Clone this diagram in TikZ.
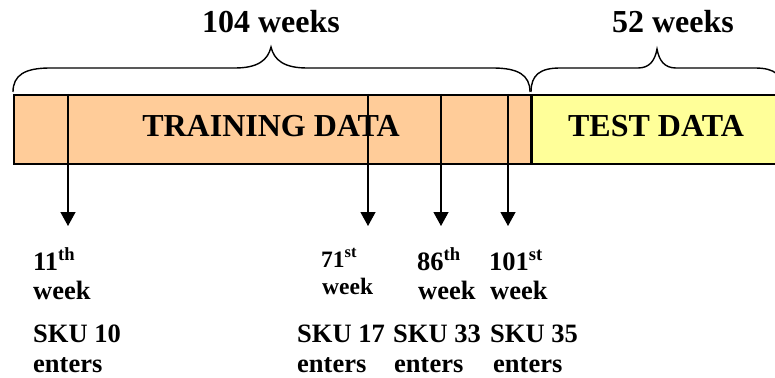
\documentclass[tikz,border=0pt]{standalone}
\usepackage{fontspec}
\setmainfont{Liberation Serif}
\usetikzlibrary{arrows.meta}
\definecolor{trainfill}{HTML}{FFCC99}
\definecolor{testfill}{HTML}{FFFF99}
\begin{document}
\begin{tikzpicture}[x=1pt,y=-1pt,
  box/.style={draw=black,line width=1.6pt,rectangle,inner sep=0pt,anchor=north west},
  bigtxt/.style={font=\fontsize{32}{36}\selectfont\bfseries,inner sep=0pt},
  lbl/.style={font=\fontsize{26.5}{30}\selectfont\bfseries,inner sep=0pt,anchor=base west},
  lblsm/.style={font=\fontsize{23.5}{27}\selectfont\bfseries,inner sep=0pt,anchor=base west},
  brace/.style={line width=1.4pt},
  marker/.style={line width=1.3pt,-{Triangle[length=14pt,width=15pt]}}]
\useasboundingbox (0,0) rectangle (775,377);
\clip (0,0) rectangle (775,377);
% boxes
\node[box,fill=trainfill,minimum width=517pt,minimum height=69pt] (train) at (13,94) {};
\node[box,fill=testfill,minimum width=260pt,minimum height=69pt] (test) at (530,94) {};
\draw[line width=2.6pt] (train.north east) -- (train.south east);
\node[bigtxt,anchor=base] (traintxt) at (271,136) {TRAINING DATA};
\node[bigtxt,anchor=base] (testtxt) at (656,136) {TEST DATA};
% braces
\draw[brace] (13,92) .. controls (13,75) and (25,68) .. (50,68) -- (235,68)
  .. controls (258,68) and (268,60) .. (271,47)
  .. controls (274,60) and (284,68) .. (307,68) -- (493,68)
  .. controls (518,68) and (530,75) .. (530,92);
\draw[brace] (531,92) .. controls (531,75) and (540,68) .. (560,68) -- (638,68)
  .. controls (650,68) and (655,60) .. (657,49)
  .. controls (659,60) and (664,68) .. (676,68) -- (755,68)
  .. controls (775,68) and (783,75) .. (783,92);
\node[bigtxt,anchor=base] (w104) at (271,33) {104 weeks};
\node[bigtxt,anchor=base] (w52) at (673,33) {52 weeks};
% markers
\coordinate (t11) at (68,94);  \coordinate (a11) at (68,226);
\coordinate (t71) at (368,94); \coordinate (a71) at (368,226);
\coordinate (t86) at (441,94); \coordinate (a86) at (441,226);
\coordinate (t101) at (508,94); \coordinate (a101) at (508,226);
\draw[marker] (t11) -- (a11);
\draw[marker] (t71) -- (a71);
\draw[marker] (t86) -- (a86);
\draw[marker] (t101) -- (a101);
% labels
\node[lbl] (n11) at (33,270) {11\textsuperscript{th}};
\node[lbl] (wk11) at (33,299) {week};
\node[lbl] (s10) at (33,342) {SKU 10};
\node[lbl] (e10) at (33,372) {enters};
\node[lblsm] (n71) at (321,267) {71\textsuperscript{st}};
\node[lblsm] (wk71) at (322,294) {week};
\node[lbl] (s17) at (297,342) {SKU 17};
\node[lbl] (e17) at (297,372) {enters};
\node[lbl] (n86) at (417,270) {86\textsuperscript{th}};
\node[lbl] (wk86) at (418,299) {week};
\node[lbl] (s33) at (393,342) {SKU 33};
\node[lbl] (e33) at (394,372) {enters};
\node[lbl] (n101) at (489,270) {101\textsuperscript{st}};
\node[lbl] (wk101) at (490,299) {week};
\node[lbl] (s35) at (490,342) {SKU 35};
\node[lbl] (e35) at (493,372) {enters};
\end{tikzpicture}
\end{document}
